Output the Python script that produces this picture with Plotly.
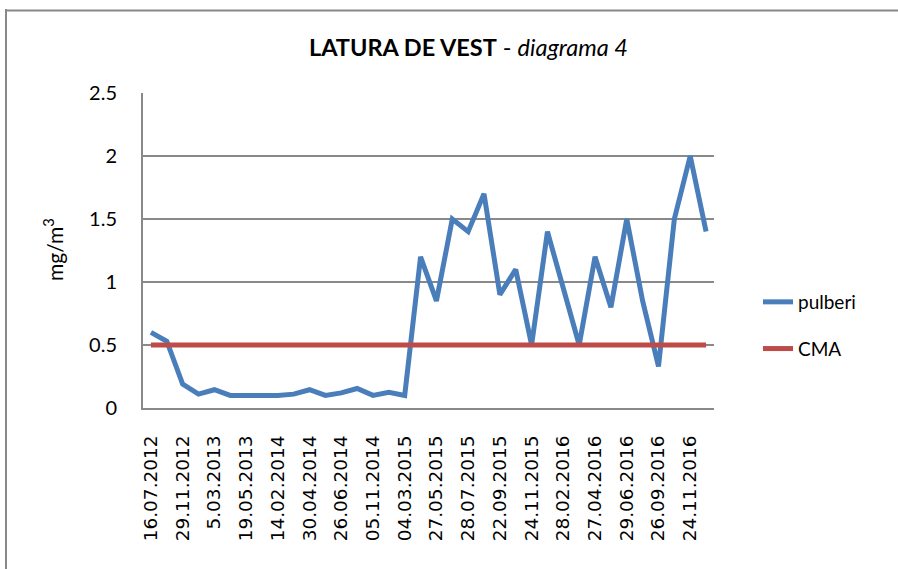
import plotly.graph_objects as go

# ---- data ----
tick_labels = ["16.07.2012", "29.11.2012", "5.03.2013", "19.05.2013", "14.02.2014",
               "30.04.2014", "26.06.2014", "05.11.2014", "04.03.2015", "27.05.2015",
               "28.07.2015", "22.09.2015", "24.11.2015", "28.02.2016", "27.04.2016",
               "29.06.2016", "26.09.2016", "24.11.2016"]
sample_index = list(range(36))
pulberi = [0.60, 0.53, 0.19, 0.11, 0.145, 0.10, 0.10, 0.10, 0.10, 0.11,
           0.145, 0.10, 0.12, 0.155, 0.10, 0.125, 0.10, 1.20, 0.85, 1.50,
           1.40, 1.70, 0.90, 1.10, 0.50, 1.40, 0.95, 0.50, 1.20, 0.80,
           1.50, 0.85, 0.33, 1.50, 2.00, 1.40]
cma = [0.5] * 36

W, H = 898, 569
L, R, T, B = 143, 714, 93, 408
pw, ph = R - L, B - T

def px(x):
    return (x - L) / pw

def py(y):
    return (B - y) / ph

fig = go.Figure()
fig.add_trace(go.Scatter(x=sample_index, y=pulberi, mode="lines", name="pulberi",
                         line=dict(color="#4A7EBB", width=5), legendgroup="a"))
fig.add_trace(go.Scatter(x=sample_index, y=cma, mode="lines", name="CMA",
                         line=dict(color="#BE4B48", width=5), legendgroup="b"))

grid = "#898989"
fig.update_layout(
    width=W, height=H,
    margin=dict(l=L, r=W - R, t=T, b=H - B),
    paper_bgcolor="white", plot_bgcolor="white",
    showlegend=True,
    legend=dict(x=px(758), y=py(283), xanchor="left", yanchor="top",
                traceorder="grouped", tracegroupgap=19,
                font=dict(family="Lato", size=19, color="black"),
                bgcolor="rgba(0,0,0,0)"),
    xaxis=dict(range=[-0.5, 35.5], tickmode="array",
               tickvals=sample_index[::2], ticktext=tick_labels,
               tickangle=-90, ticks="", showgrid=False, zeroline=False,
               showline=True, linecolor=grid, linewidth=2,
               ticklabelstandoff=18,
               tickfont=dict(family="DejaVu Sans", size=18.5, color="black")),
    yaxis=dict(range=[0, 2.5], tickvals=[0, 0.5, 1, 1.5, 2, 2.5],
               ticktext=["0", "0.5", "1", "1.5", "2", "2.5"],
               showgrid=True, gridcolor=grid, gridwidth=2, zeroline=False,
               showline=True, linecolor=grid, linewidth=2, ticks="",
               ticklabelstandoff=20,
               tickfont=dict(family="Lato", size=20, color="black")),
    annotations=[
        dict(text="<b>LATURA DE VEST</b> - <i>diagrama 4</i>", xref="paper", yref="paper",
             x=px(468), y=py(47), xanchor="center", yanchor="middle", showarrow=False,
             font=dict(family="Lato", size=23.5, color="black")),
        dict(text="mg/m<sup>3</sup>", xref="paper", yref="paper",
             x=px(53), y=py(250), xanchor="center", yanchor="middle", showarrow=False,
             textangle=-90, font=dict(family="Lato", size=21, color="black")),
    ],
    shapes=[
        dict(type="line", xref="paper", yref="paper", x0=px(6), x1=px(6), y0=py(9), y1=py(600),
             line=dict(color="#888888", width=2)),
        dict(type="line", xref="paper", yref="paper", x0=px(5), x1=px(910), y0=py(10.5), y1=py(10.5),
             line=dict(color="#888888", width=2), layer="above"),
    ],
)

fig.write_html("out.html", config={"displayModeBar": False},
               post_script="document.body.style.margin='0';document.body.style.padding='0';")
